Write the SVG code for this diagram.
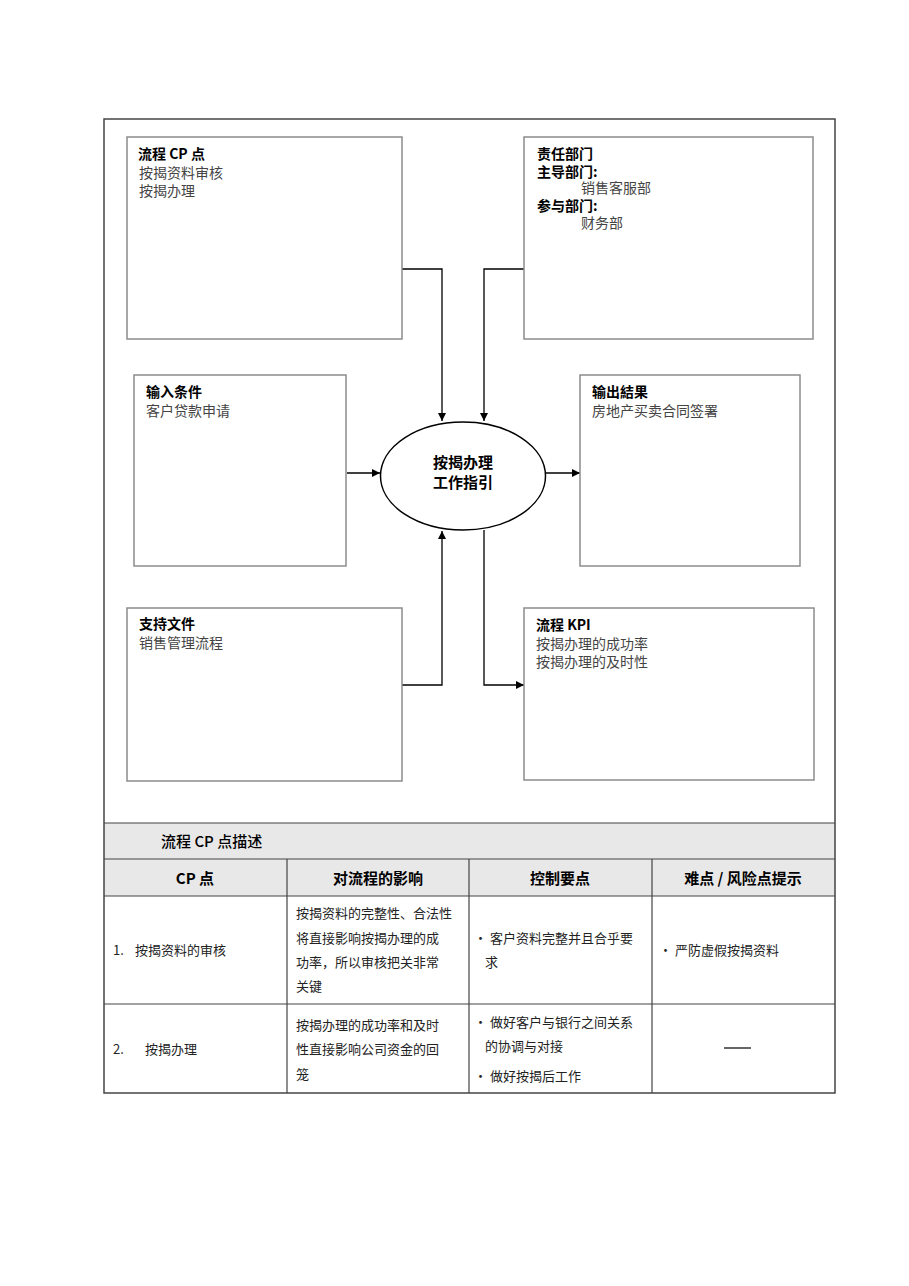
<svg xmlns="http://www.w3.org/2000/svg" width="909" height="1286" viewBox="0 0 909 1286">
<style>
.bg{fill:#ffffff}
.box{fill:#ffffff;stroke:#8c8c8c;stroke-width:1.5}
.frame{fill:none;stroke:#444;stroke-width:1.5}
.line{fill:none;stroke:#444;stroke-width:1.2}
.conn{fill:none;stroke:#000;stroke-width:1.3}
.t{font-family:"Noto Sans CJK SC","Liberation Sans",sans-serif;font-size:14px;font-weight:bold;fill:#000}
.c{font-family:"Noto Sans CJK SC","Liberation Serif",serif;font-size:14px;fill:#444}
.e{font-family:"Noto Sans CJK SC","Liberation Sans",sans-serif;font-size:15px;font-weight:bold;fill:#000}
.th{font-family:"Noto Sans CJK SC","Liberation Sans",sans-serif;font-size:15px;font-weight:bold;fill:#000}
.hd{font-family:"Noto Sans CJK SC","Liberation Sans",sans-serif;font-size:15px;font-weight:500;fill:#000}
.td{font-family:"Noto Sans CJK SC","Liberation Serif",serif;font-size:13px;fill:#222}
.gray{fill:#e8e8e8}
</style>
<defs>
<marker id="arr" viewBox="0 0 10 10" refX="10" refY="5" markerWidth="8" markerHeight="8" markerUnits="userSpaceOnUse" orient="auto">
<path d="M0,0 L10,5 L0,10 z" fill="#000"/>
</marker>
</defs>
<rect class="bg" x="0" y="0" width="909" height="1286"/>

<g id="table-bg">
<rect class="gray" x="104" y="823" width="731" height="73"/>
</g>

<g id="connectors">
<path class="conn" d="M402,269 H442 V421" marker-end="url(#arr)"/>
<path class="conn" d="M524,269 H484 V421" marker-end="url(#arr)"/>
<path class="conn" d="M347,473 H380" marker-end="url(#arr)"/>
<path class="conn" d="M545,473 H580" marker-end="url(#arr)"/>
<path class="conn" d="M402,685 H442 V531" marker-end="url(#arr)"/>
<path class="conn" d="M484,530 V685 H524" marker-end="url(#arr)"/>
</g>

<g id="cp">
<rect class="box" x="127" y="137" width="275" height="202"/>
<text class="t" x="138" y="159">流程 CP 点</text>
<text class="c" x="139" y="178">按揭资料审核</text>
<text class="c" x="139" y="196">按揭办理</text>
</g>

<g id="dept">
<rect class="box" x="524" y="137" width="289" height="202"/>
<text class="t" x="537" y="159">责任部门</text>
<text class="t" x="537" y="177">主导部门:</text>
<text class="c" x="581" y="193">销售客服部</text>
<text class="t" x="537" y="211">参与部门:</text>
<text class="c" x="581" y="228">财务部</text>
</g>

<g id="input">
<rect class="box" x="134" y="375" width="212" height="191"/>
<text class="t" x="146" y="397">输入条件</text>
<text class="c" x="146" y="416">客户贷款申请</text>
</g>

<g id="output">
<rect class="box" x="580" y="375" width="220" height="191"/>
<text class="t" x="592" y="397">输出結果</text>
<text class="c" x="592" y="416">房地产买卖合同签署</text>
</g>

<g id="center">
<ellipse cx="463" cy="476" rx="82.5" ry="54" fill="#fff" stroke="#000" stroke-width="1.5"/>
<text class="e" x="463" y="468" text-anchor="middle">按揭办理</text>
<text class="e" x="463" y="488" text-anchor="middle">工作指引</text>
</g>

<g id="support">
<rect class="box" x="127" y="608" width="275" height="173"/>
<text class="t" x="139" y="629">支持文件</text>
<text class="c" x="139" y="648">销售管理流程</text>
</g>

<g id="kpi">
<rect class="box" x="524" y="608" width="290" height="172"/>
<text class="t" x="536" y="630">流程 KPI</text>
<text class="c" x="536" y="649">按揭办理的成功率</text>
<text class="c" x="536" y="667">按揭办理的及时性</text>
</g>

<g id="table">
<rect class="frame" x="104" y="119" width="731" height="974"/>
<line class="line" x1="104" y1="823" x2="835" y2="823"/>
<line class="line" x1="104" y1="859" x2="835" y2="859"/>
<line class="line" x1="104" y1="896" x2="835" y2="896"/>
<line class="line" x1="104" y1="1004" x2="835" y2="1004"/>
<line class="line" x1="287" y1="859" x2="287" y2="1093"/>
<line class="line" x1="469" y1="859" x2="469" y2="1093"/>
<line class="line" x1="652" y1="859" x2="652" y2="1093"/>
<text class="hd" x="161" y="847">流程 CP 点描述</text>
<text class="th" x="195" y="884" text-anchor="middle">CP 点</text>
<text class="th" x="378" y="884" text-anchor="middle">对流程的影响</text>
<text class="th" x="560" y="884" text-anchor="middle">控制要点</text>
<text class="th" x="743" y="884" text-anchor="middle">难点 / 风险点提示</text>

<text class="td" x="113" y="955">1.</text>
<text class="td" x="135" y="955">按揭资料的审核</text>
<text class="td" x="296" y="918">按揭资料的完整性、合法性</text>
<text class="td" x="296" y="943">将直接影响按揭办理的成</text>
<text class="td" x="296" y="967">功率，所以审核把关非常</text>
<text class="td" x="296" y="991">关键</text>
<text class="td" x="474" y="943">• 客户资料完整并且合乎要</text>
<text class="td" x="485" y="967">求</text>
<text class="td" x="659" y="955">• 严防虚假按揭资料</text>

<text class="td" x="113" y="1054">2.</text>
<text class="td" x="145" y="1054">按揭办理</text>
<text class="td" x="296" y="1030">按揭办理的成功率和及时</text>
<text class="td" x="296" y="1054">性直接影响公司资金的回</text>
<text class="td" x="296" y="1079">笼</text>
<text class="td" x="474" y="1027">• 做好客户与银行之间关系</text>
<text class="td" x="485" y="1051">的协调与对接</text>
<text class="td" x="474" y="1081">• 做好按揭后工作</text>
<line x1="724" y1="1048" x2="751" y2="1048" stroke="#000" stroke-width="1.2"/>
</g>
</svg>
